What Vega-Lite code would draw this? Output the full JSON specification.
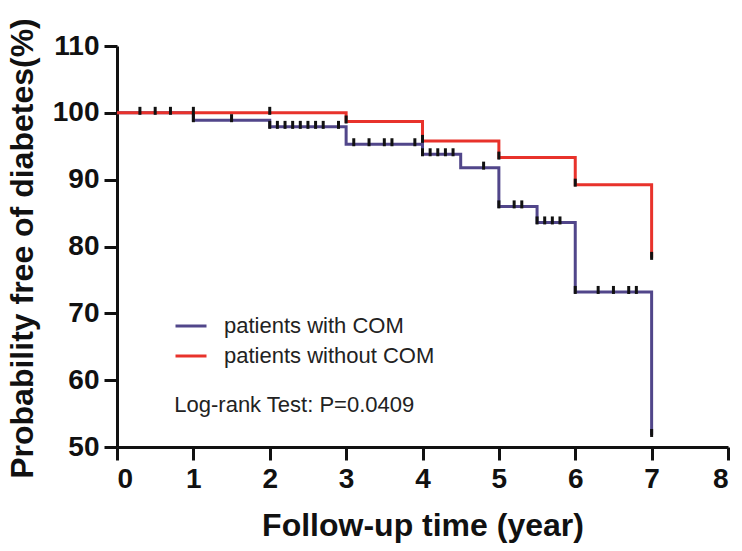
{
  "$schema": "https://vega.github.io/schema/vega-lite/v6.json",
  "width": 611,
  "height": 401,
  "autosize": {"type": "none"},
  "padding": {"left": 117, "top": 46, "right": 14, "bottom": 104},
  "background": "white",
  "config": {
    "view": {"stroke": null},
    "font": "Arial, Liberation Sans, sans-serif",
    "axis": {
      "grid": false,
      "domainColor": "#111",
      "domainWidth": 3,
      "tickColor": "#111",
      "tickWidth": 3,
      "tickSize": 13,
      "labelFont": "Arial, Liberation Sans, sans-serif",
      "labelFontSize": 28,
      "labelFontWeight": "bold",
      "labelColor": "#111",
      "titleFont": "Arial, Liberation Sans, sans-serif",
      "titleFontSize": 32,
      "titleFontWeight": "bold",
      "titleColor": "#111"
    }
  },
  "datasets": {
    "curves": [
      {"group": "patients with COM", "time": 0, "pct": 100},
      {"group": "patients with COM", "time": 1, "pct": 98.9},
      {"group": "patients with COM", "time": 2, "pct": 97.9},
      {"group": "patients with COM", "time": 3, "pct": 95.3},
      {"group": "patients with COM", "time": 4, "pct": 93.8},
      {"group": "patients with COM", "time": 4.5, "pct": 91.8},
      {"group": "patients with COM", "time": 5, "pct": 86.0},
      {"group": "patients with COM", "time": 5.5, "pct": 83.6},
      {"group": "patients with COM", "time": 6, "pct": 73.2},
      {"group": "patients with COM", "time": 7, "pct": 51.8},
      {"group": "patients without COM", "time": 0, "pct": 100},
      {"group": "patients without COM", "time": 3, "pct": 98.7},
      {"group": "patients without COM", "time": 4, "pct": 95.8},
      {"group": "patients without COM", "time": 5, "pct": 93.3},
      {"group": "patients without COM", "time": 6, "pct": 89.25},
      {"group": "patients without COM", "time": 7, "pct": 78.3}
    ],
    "censored": [
      {"group": "patients with COM", "time": 1.0, "pct": 98.9},
      {"group": "patients with COM", "time": 1.5, "pct": 98.9},
      {"group": "patients with COM", "time": 2.0, "pct": 97.9},
      {"group": "patients with COM", "time": 2.1, "pct": 97.9},
      {"group": "patients with COM", "time": 2.2, "pct": 97.9},
      {"group": "patients with COM", "time": 2.3, "pct": 97.9},
      {"group": "patients with COM", "time": 2.4, "pct": 97.9},
      {"group": "patients with COM", "time": 2.5, "pct": 97.9},
      {"group": "patients with COM", "time": 2.6, "pct": 97.9},
      {"group": "patients with COM", "time": 2.7, "pct": 97.9},
      {"group": "patients with COM", "time": 2.9, "pct": 97.9},
      {"group": "patients with COM", "time": 3.1, "pct": 95.3},
      {"group": "patients with COM", "time": 3.3, "pct": 95.3},
      {"group": "patients with COM", "time": 3.5, "pct": 95.3},
      {"group": "patients with COM", "time": 3.6, "pct": 95.3},
      {"group": "patients with COM", "time": 3.9, "pct": 95.3},
      {"group": "patients with COM", "time": 4.0, "pct": 93.8},
      {"group": "patients with COM", "time": 4.1, "pct": 93.8},
      {"group": "patients with COM", "time": 4.2, "pct": 93.8},
      {"group": "patients with COM", "time": 4.3, "pct": 93.8},
      {"group": "patients with COM", "time": 4.4, "pct": 93.8},
      {"group": "patients with COM", "time": 4.8, "pct": 91.8},
      {"group": "patients with COM", "time": 5.0, "pct": 86.0},
      {"group": "patients with COM", "time": 5.2, "pct": 86.0},
      {"group": "patients with COM", "time": 5.3, "pct": 86.0},
      {"group": "patients with COM", "time": 5.5, "pct": 83.6},
      {"group": "patients with COM", "time": 5.6, "pct": 83.6},
      {"group": "patients with COM", "time": 5.7, "pct": 83.6},
      {"group": "patients with COM", "time": 5.8, "pct": 83.6},
      {"group": "patients with COM", "time": 6.0, "pct": 73.2},
      {"group": "patients with COM", "time": 6.3, "pct": 73.2},
      {"group": "patients with COM", "time": 6.5, "pct": 73.2},
      {"group": "patients with COM", "time": 6.7, "pct": 73.2},
      {"group": "patients with COM", "time": 6.8, "pct": 73.2},
      {"group": "patients with COM", "time": 7.0, "pct": 51.8},
      {"group": "patients without COM", "time": 0.3, "pct": 100},
      {"group": "patients without COM", "time": 0.5, "pct": 100},
      {"group": "patients without COM", "time": 0.7, "pct": 100},
      {"group": "patients without COM", "time": 1.0, "pct": 100},
      {"group": "patients without COM", "time": 2.0, "pct": 100},
      {"group": "patients without COM", "time": 3.0, "pct": 98.7},
      {"group": "patients without COM", "time": 4.0, "pct": 95.8},
      {"group": "patients without COM", "time": 5.0, "pct": 93.3},
      {"group": "patients without COM", "time": 6.0, "pct": 89.25},
      {"group": "patients without COM", "time": 7.0, "pct": 78.3}
    ],
    "note": [
      {"label": "Log-rank Test: P=0.0409", "time": 0.75, "pct": 56.3}
    ]
  },
  "layer": [
    {
      "data": {"name": "curves"},
      "mark": {"type": "line", "interpolate": "step-after", "strokeWidth": 3, "strokeJoin": "miter", "strokeCap": "butt"},
      "encoding": {
        "x": {
          "field": "time", "type": "quantitative",
          "scale": {"domain": [0, 8], "nice": false, "zero": false},
          "axis": {
            "values": [0, 1, 2, 3, 4, 5, 6, 7, 8],
            "format": "d",
            "title": "Follow-up time (year)",
            "labelPadding": 5,
            "titleBaseline": "alphabetic",
            "titleY": 88
          }
        },
        "y": {
          "field": "pct", "type": "quantitative",
          "scale": {"domain": [50, 110], "nice": false, "zero": false},
          "axis": {
            "values": [50, 60, 70, 80, 90, 100, 110],
            "format": "d",
            "title": "Probability free of diabetes(%)",
            "labelPadding": 5,
            "titleAngle": -90,
            "titleAlign": "center",
            "titleBaseline": "alphabetic",
            "titleX": -85,
            "titleY": 202
          }
        },
        "color": {
          "field": "group", "type": "nominal",
          "scale": {"domain": ["patients with COM", "patients without COM"], "range": ["#51468A", "#E8322B"]},
          "legend": {
            "title": null,
            "orient": "none",
            "legendX": 57,
            "legendY": 263,
            "symbolType": "M-1,0H1",
            "symbolSize": 961,
            "symbolStrokeWidth": 3,
            "labelFont": "Arial, Liberation Sans, sans-serif",
            "labelFontSize": 22,
            "labelColor": "#222",
            "labelOffset": 16,
            "labelLimit": 0,
            "rowPadding": 2
          }
        }
      }
    },
    {
      "data": {"name": "censored"},
      "mark": {"type": "tick", "orient": "vertical", "color": "#111", "thickness": 3, "size": 8, "yOffset": -2, "opacity": 1},
      "encoding": {
        "x": {"field": "time", "type": "quantitative"},
        "y": {"field": "pct", "type": "quantitative"}
      }
    },
    {
      "data": {"name": "note"},
      "mark": {"type": "text", "align": "left", "baseline": "middle", "fontSize": 22, "color": "#222", "font": "Arial, Liberation Sans, sans-serif"},
      "encoding": {
        "x": {"field": "time", "type": "quantitative"},
        "y": {"field": "pct", "type": "quantitative"},
        "text": {"field": "label"}
      }
    }
  ]
}
